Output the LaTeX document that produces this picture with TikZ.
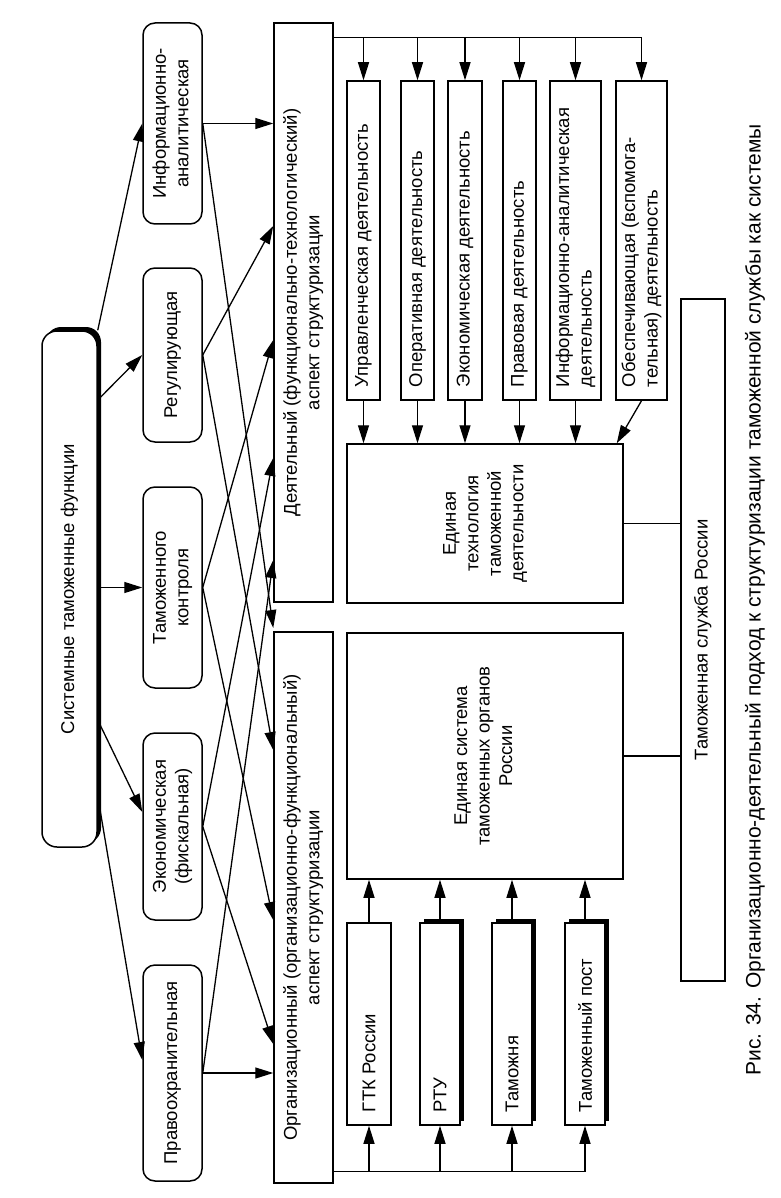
\documentclass[tikz,border=0pt]{standalone}
\usepackage{fontspec}
\setmainfont{Liberation Sans}
\usepackage{graphicx}
\usetikzlibrary{arrows.meta,shadows,positioning,calc}
\tikzstyle{arrow} = [line width=1.3pt,-{Triangle[length=18pt,width=11pt]}]
\tikzstyle{line} = [line width=1.3pt]
\tikzstyle{box} = [rectangle, draw, line width=1.5pt, fill=white, inner sep=0pt]
\tikzstyle{fbox} = [box, rounded corners=12pt, minimum width=59pt]
\tikzstyle{abox} = [box, minimum height=319pt]
\tikzstyle{ubox} = [box, minimum height=202pt, minimum width=40pt]
\tikzstyle{shadowed} = [drop shadow={shadow xshift=4pt, shadow yshift=4pt, fill=black, opacity=1}]
\newcommand{\vtxt}[1]{\rotatebox{90}{\begin{tabular}{@{}c@{}}#1\end{tabular}}}
\newcommand{\vltxt}[2]{\rotatebox{90}{\parbox{#1}{\raggedright #2}}}

\begin{document}
\begin{tikzpicture}[x=1pt, y=-1pt, font=\fontsize{18.5}{22.5}\selectfont]
    \useasboundingbox (0,0) rectangle (780,1198);

    % Functions
    \node[box, shadowed, rounded corners=15pt, minimum width=55pt, minimum height=516pt] (sys) at (69.5,589) {\vtxt{Системные таможенные функции}};
    \node[fbox, minimum height=201pt] (inf) at (172.5,123.5) {\vtxt{Информационно-\\аналитическая}};
    \node[fbox, minimum height=174pt] (reg) at (172.5,355) {\vtxt{Регулирующая}};
    \node[fbox, minimum height=201pt] (tk) at (172.5,587.5) {\vtxt{Таможенного\\контроля}};
    \node[fbox, minimum height=187pt] (econ) at (172.5,826.5) {\vtxt{Экономическая\\(фискальная)}};
    \node[fbox, minimum height=216pt] (pravo) at (172.5,1073) {\vtxt{Правоохранительная}};

    % Aspects
    \node[box, minimum width=59pt, minimum height=579pt] (deyat) at (303.5,312.5) {\vtxt{Деятельный (функционально-технологический)\\аспект структуризации}};
    \node[box, minimum width=59pt, minimum height=551pt] (org) at (303.5,907.5) {\vtxt{Организационный (организационно-функциональный)\\аспект структуризации}};

    % Activities
    \node[abox, minimum width=33pt] (upr) at (363.5,240.5) {\vltxt{293pt}{Управленческая деятельность}};
    \node[abox, minimum width=33pt] (oper) at (417.5,240.5) {\vltxt{293pt}{Оперативная деятельность}};
    \node[abox, minimum width=34pt] (ekd) at (465,240.5) {\vltxt{293pt}{Экономическая деятельность}};
    \node[abox, minimum width=33pt] (prav) at (519.5,240.5) {\vltxt{293pt}{Правовая деятельность}};
    \node[abox, minimum width=51pt] (infd) at (575.5,240.5) {\vltxt{293pt}{Информационно-аналитическая\\деятельность}};
    \node[abox, minimum width=51pt] (obes) at (641.5,240.5) {\vltxt{293pt}{Обеспечивающая (вспомога-\\тельная) деятельность}};

    % Unified technology / system
    \node[box, minimum width=276pt, minimum height=159pt] (et) at (485,523.5) {\vtxt{Единая\\технология\\таможенной\\деятельности}};
    \node[box, minimum width=276pt, minimum height=246pt] (es) at (485,756) {\vtxt{Единая система\\таможенных органов\\России}};
    \node[box, minimum width=44pt, minimum height=682pt] (tsr) at (703,640) {\vtxt{Таможенная служба России}};

    % Customs bodies
    \node[ubox, minimum width=44pt] (gtk) at (369,1024) {\vltxt{176pt}{ГТК России}};
    \node[ubox, shadowed] (rtu) at (440,1024) {\vltxt{176pt}{РТУ}};
    \node[ubox, shadowed] (tmz) at (512,1024) {\vltxt{176pt}{Таможня}};
    \node[ubox, shadowed] (post) at (585,1024) {\vltxt{176pt}{Таможенный пост}};

    % Caption
    \node[rotate=90, font=\fontsize{21}{25}\selectfont] (cap) at (755,600) {Рис. 34. Организационно-деятельный подход к структуризации таможенной службы как системы};

    % Functions from the system box
    \draw[arrow] (sys.north east) -- (inf.west);
    \draw[arrow] (sys.east |- 0,400) -- (reg.west);
    \draw[arrow] (sys.east |- tk.west) -- (tk.west);
    \draw[arrow] (sys.east |- 0,720) -- (econ.west |- 0,812);
    \draw[arrow] (sys.east |- 0,796) -- (pravo.west |- 0,1060);

    % Functions to aspects
    \draw[arrow] (inf.east) -- (inf.east -| deyat.west);
    \foreach \src/\y in {reg/226, tk/340, econ/458, pravo/560}
        \draw[arrow] (\src.east) -- (deyat.west |- 0,\y);
    \foreach \src/\y in {inf/628, reg/750, tk/920, econ/1044}
        \draw[arrow] (\src.east) -- (org.west |- 0,\y);
    \draw[arrow] (pravo.east) -- (pravo.east -| org.west);

    % Top bus to activities
    \coordinate (bt) at ([yshift=-15pt]deyat.north east);
    \draw[line] (bt) -- (bt -| obes.north);
    \foreach \n in {upr,oper,ekd,prav,infd,obes}
        \draw[arrow] (bt -| \n.north) -- (\n.north);
    \foreach \n in {upr,oper,ekd,prav,infd}
        \draw[arrow] (\n.south) -- (\n.south |- et.north);
    \draw[arrow] (obes.south) -- ([xshift=-7pt]et.north east);

    % Links to the customs service
    \draw[line] (et.east) -- (et.east -| tsr.west);
    \draw[line] (es.east) -- (es.east -| tsr.west);

    % Bottom bus to customs bodies
    \coordinate (bb) at ([yshift=12pt]org.south east);
    \draw[line] (bb) -- (bb -| post.south);
    \foreach \n in {gtk,rtu,tmz,post} {
        \draw[arrow] (bb -| \n.south) -- (\n.south);
        \draw[arrow] (\n.north) -- (\n.north |- es.south);
    }
\end{tikzpicture}
\end{document}
